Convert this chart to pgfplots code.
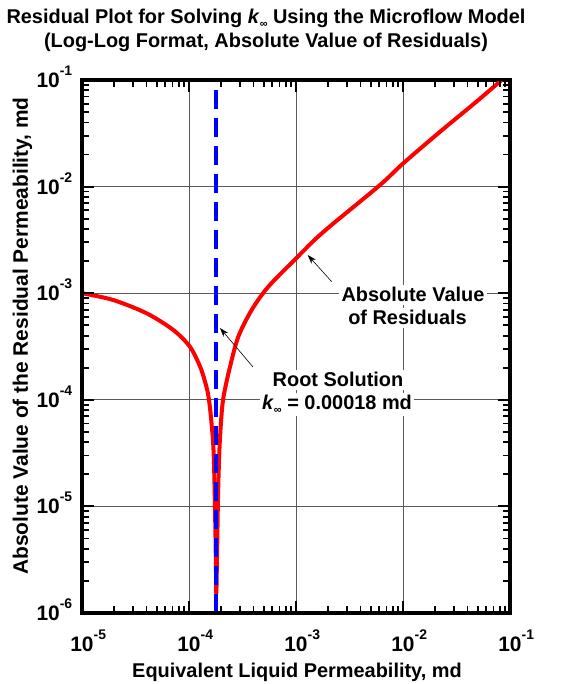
\documentclass[border=0pt]{standalone}
\usepackage{fontspec}
\setmainfont{Liberation Sans}
\usepackage{pgfplots}
\pgfplotsset{compat=1.18}
\usetikzlibrary{arrows.meta}
\newcommand{\tl}[1]{10\rlap{\raisebox{12bp}{\fontsize{14}{14}\selectfont #1}}}
\newcommand{\kinf}{\textit{k}\raisebox{-4bp}{\fontsize{11}{11}\selectfont ∞}}
\begin{document}
\begin{tikzpicture}[tk/.style={black, line width=1.8bp}]
\begin{axis}[
  at={(0bp,0bp)}, anchor=south west,
  scale only axis, width=428bp, height=533bp,
  xmode=log, ymode=log,
  xmin=1e-5, xmax=1e-1, ymin=1e-6, ymax=1e-1,
  axis line style={line width=3bp, black},
  tick align=inside,
  major tick length=12bp, minor tick length=7bp,
  tick style={black, line width=1.8bp},
  xmajorgrids, ymajorgrids, major grid style={black!65, line width=0.7bp},
  xtick={1e-5,1e-4,1e-3,1e-2,1e-1},
  xticklabels={\tl{-5},\tl{-4},\tl{-3},\tl{-2},\tl{-1}},
  ytick={1e-6,1e-5,1e-4,1e-3,1e-2,1e-1},
  yticklabels={\tl{-6},\tl{-5},\tl{-4},\tl{-3},\tl{-2},\tl{-1}},
  xticklabel style={font=\fontsize{21}{21}\selectfont\bfseries, anchor=base, inner sep=0pt, yshift=-38bp},
  yticklabel style={font=\fontsize{21}{21}\selectfont\bfseries, anchor=base east, inner sep=0pt, xshift=-22bp, yshift=-7.5bp},
]
\addplot[red, line width=4bp, line join=round, line cap=round, smooth, tension=0.5] coordinates {
(1.00e-5,1.00e-3) (1.96e-5,8.63e-4) (4.03e-5,6.47e-4) (7.13e-5,4.52e-4)
(1.02e-4,3.15e-4) (1.27e-4,2.05e-4) (1.42e-4,1.45e-4) (1.51e-4,1.12e-4)
(1.59e-4,7.5e-5) (1.69e-4,3.6e-5) (1.74e-4,1.3e-5) (1.78e-4,3.5e-6)
(1.797e-4,1.55e-6)
};
\addplot[red, line width=4bp, line join=round, line cap=round, smooth, tension=0.5] coordinates {
(1.803e-4,1.55e-6) (1.83e-4,3.5e-6) (1.87e-4,1.3e-5)
(1.93e-4,3.6e-5) (2.02e-4,7.5e-5) (2.12e-4,1.12e-4) (2.42e-4,2.05e-4)
(2.89e-4,3.91e-4) (3.85e-4,6.95e-4) (5.51e-4,1.15e-3) (1.02e-3,2.16e-3)
(1.51e-3,3.2e-3) (2.23e-3,4.5e-3) (6.10e-3,1.035e-2) (1.007e-2,1.656e-2)
(2.22e-2,3.27e-2) (4.89e-2,6.3e-2) (8.36e-2,1.0e-1)
};
\addplot[blue, line width=4bp, dash pattern=on 19bp off 9bp] coordinates {(1.8e-4,1e-6) (1.8e-4,1e-1)};
\end{axis}
% axis ticks (frame decoration)
\foreach \d in {1,2,3} {
  \draw[tk] ({\d*107bp},0bp) -- ++(0bp,12bp);
  \draw[tk] ({\d*107bp},533bp) -- ++(0bp,-12bp);
}
\foreach \d in {1,2,3,4} {
  \draw[tk] (0bp,{\d*106.6bp}) -- ++(12bp,0bp);
  \draw[tk] (428bp,{\d*106.6bp}) -- ++(-12bp,0bp);
}
\foreach \d in {0,1,2,3} { \foreach \m in {2,...,9} {
  \pgfmathsetmacro\xx{107*(\d+log10(\m))}
  \draw[tk] (\xx bp,0bp) -- ++(0bp,7bp);
  \draw[tk] (\xx bp,533bp) -- ++(0bp,-7bp);
}}
\foreach \d in {0,1,2,3,4} { \foreach \m in {2,...,9} {
  \pgfmathsetmacro\yy{106.6*(\d+log10(\m))}
  \draw[tk] (0bp,\yy bp) -- ++(7bp,0bp);
  \draw[tk] (428bp,\yy bp) -- ++(-7bp,0bp);
}}
\draw[black, line width=3bp] (0bp,0bp) rectangle (428bp,533bp);
\draw[black, line width=0.6bp, -{Stealth[length=9bp,width=6bp]}] (249.7bp,331.3bp) -- (225.7bp,358bp);
\draw[black, line width=0.6bp, -{Stealth[length=9bp,width=6bp]}] (171bp,246bp) -- (138bp,285bp);
\begin{scope}[every node/.style={font=\fontsize{20}{20}\selectfont\bfseries, anchor=base, inner sep=2.5bp}]
\node[fill=white] at (331bp,311bp) {Absolute Value};
\node[fill=white] at (325.5bp,288bp) {of Residuals};
\node[fill=white] at (256bp,226bp) {Root Solution};
\node[fill=white] at (255bp,203bp) {\kinf{} = 0.00018 md};
\node at (184bp,589bp) {Residual Plot for Solving \kinf{} Using the Microflow Model};
\node at (184bp,565bp) {(Log-Log Format, Absolute Value of Residuals)};
\node at (215bp,-64bp) {Equivalent Liquid Permeability, md};
\node[rotate=90, font=\fontsize{21}{21}\selectfont\bfseries] at (-54bp,277bp) {Absolute Value of the Residual Permeability, md};
\end{scope}
\pgfresetboundingbox
\path[use as bounding box] (-82bp,-71bp) rectangle (479bp,613bp);
\end{tikzpicture}
\end{document}
